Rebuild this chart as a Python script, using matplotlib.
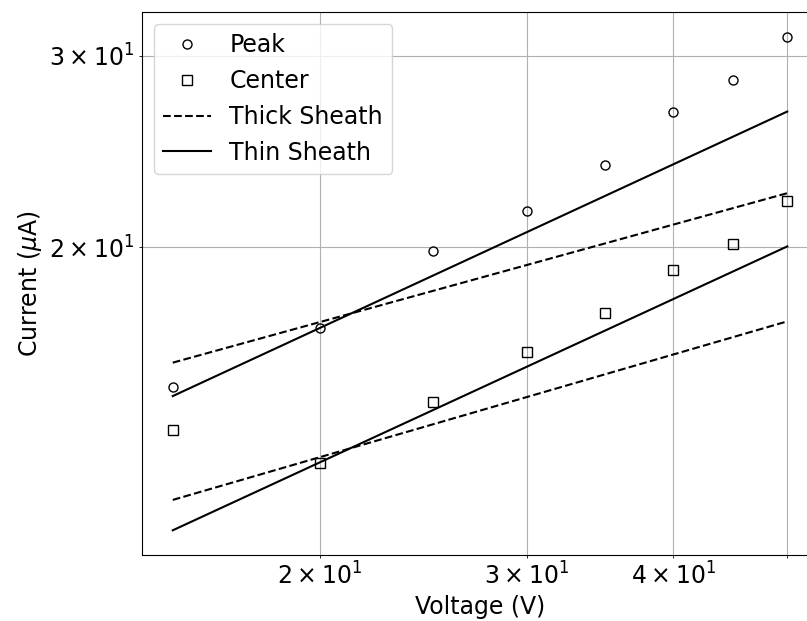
import numpy as np
import matplotlib
matplotlib.use("Agg")
import matplotlib.pyplot as plt

# measured currents (uA) at each probe voltage (V)
voltage = [15, 20, 25, 30, 35, 40, 45, 50]
peak = [14.87, 16.85, 19.82, 21.58, 23.82, 26.61, 28.52, 31.23]
center = [13.57, 12.66, 14.40, 16.01, 17.38, 19.04, 20.13, 22.06]

# sheath model lines, end points only (straight on log-log)
line_v = [15, 50]
thick_peak = [15.66, 22.42]
thin_peak = [14.59, 26.65]
thick_center = [11.71, 17.09]
thin_center = [10.98, 20.03]

plt.rcParams['font.size'] = 17

fig = plt.figure(figsize=(8.07, 6.21), dpi=100)
ax = fig.add_axes([0.176, 0.1063, 0.8376, 0.8744])

ax.plot(voltage, peak, 'o', mfc='none', mec='k', ms=6.5, mew=1.0, label='Peak')
ax.plot(voltage, center, 's', mfc='none', mec='k', ms=7, mew=1.0, label='Center')
ax.plot(line_v, thick_peak, 'k--', lw=1.5, label='Thick Sheath')
ax.plot(line_v, thin_peak, 'k-', lw=1.5, label='Thin Sheath')
ax.plot(line_v, thick_center, 'k--', lw=1.5)
ax.plot(line_v, thin_center, 'k-', lw=1.5)

ax.set_xscale('log')
ax.set_yscale('log')
ax.grid(which='both')
ax.set_xlabel('Voltage (V)')
ax.set_ylabel(r'Current ($\mu$A)')
ax.legend(loc='upper left')

fig.savefig('out.png', dpi=100)
